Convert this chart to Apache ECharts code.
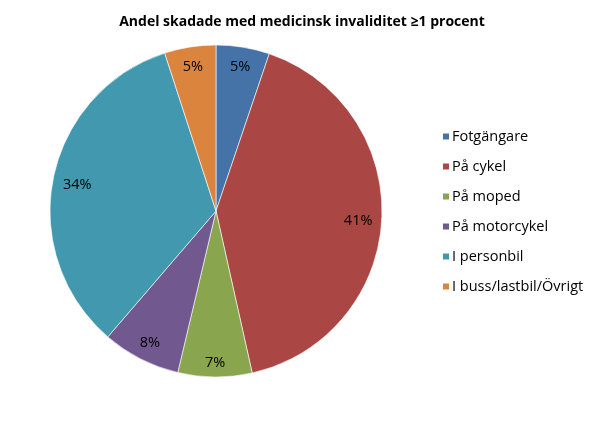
<!DOCTYPE html>
<html>
<head>
<meta charset="utf-8">
<script src="https://cdn.jsdelivr.net/npm/echarts@6/dist/echarts.min.js"></script>
<style>html,body{margin:0;padding:0;background:#fff}#c{width:602px;height:422px}</style>
</head>
<body>
<div id="c"></div>
<script>
const titleText = 'Andel skadade med medicinsk invaliditet ≥1 procent';
const categories = ['Fotgängare', 'På cykel', 'På moped', 'På motorcykel', 'I personbil', 'I buss/lastbil/Övrigt'];
const values = [5.2, 41.3, 7.2, 7.6, 33.7, 5.0];
const colors = ['#4572A7', '#AA4643', '#89A54E', '#71588F', '#4198AF', '#DB843D'];

const FONT = 'Open Sans, Lato, sans-serif';
const CX = 216, CY = 211, R = 166;
const EDGE_GAP = 9; // gap between label box and pie edge

const chart = echarts.init(document.getElementById('c'), null, {renderer: 'canvas'});
chart.setOption({
  animation: false,
  backgroundColor: '#fff',
  title: {
    text: titleText,
    left: 297, top: 10, textAlign: 'center',
    textStyle: {fontFamily: FONT, fontSize: 14, fontWeight: 'bold', color: '#000'}
  },
  legend: {
    orient: 'vertical',
    left: 436, top: 124,
    itemWidth: 8, itemHeight: 8, itemGap: 15,
    icon: 'rect',
    selectedMode: false,
    textStyle: {fontFamily: FONT, fontSize: 14.5, color: '#000', padding: [0, 0, 0, -3]},
    data: categories
  },
  series: [{
    type: 'pie',
    center: [CX, CY],
    radius: [0, R],
    startAngle: 90,
    clockwise: true,
    silent: true,
    itemStyle: {borderColor: '#fff', borderWidth: 0.6},
    label: {
      position: 'inside',
      formatter: '{d}%',
      fontFamily: FONT, fontSize: 14.5, color: '#000'
    },
    percentPrecision: 0,
    labelLayout: function (p) {
      const w = p.labelRect.width / 2, h = p.labelRect.height / 2;
      const lx = p.labelRect.x + w;
      const ly = p.labelRect.y + h;
      const dx = lx - CX, dy = ly - CY;
      const len = Math.sqrt(dx * dx + dy * dy) || 1;
      const ux = dx / len, uy = dy / len;
      const ext = Math.abs(ux) * w + Math.abs(uy) * h;
      const d = R - EDGE_GAP - ext;
      return {x: CX + ux * d, y: CY + uy * d + 2};
    },
    data: categories.map((n, i) => ({name: n, value: values[i], itemStyle: {color: colors[i]}}))
  }]
});
</script>
</body>
</html>
